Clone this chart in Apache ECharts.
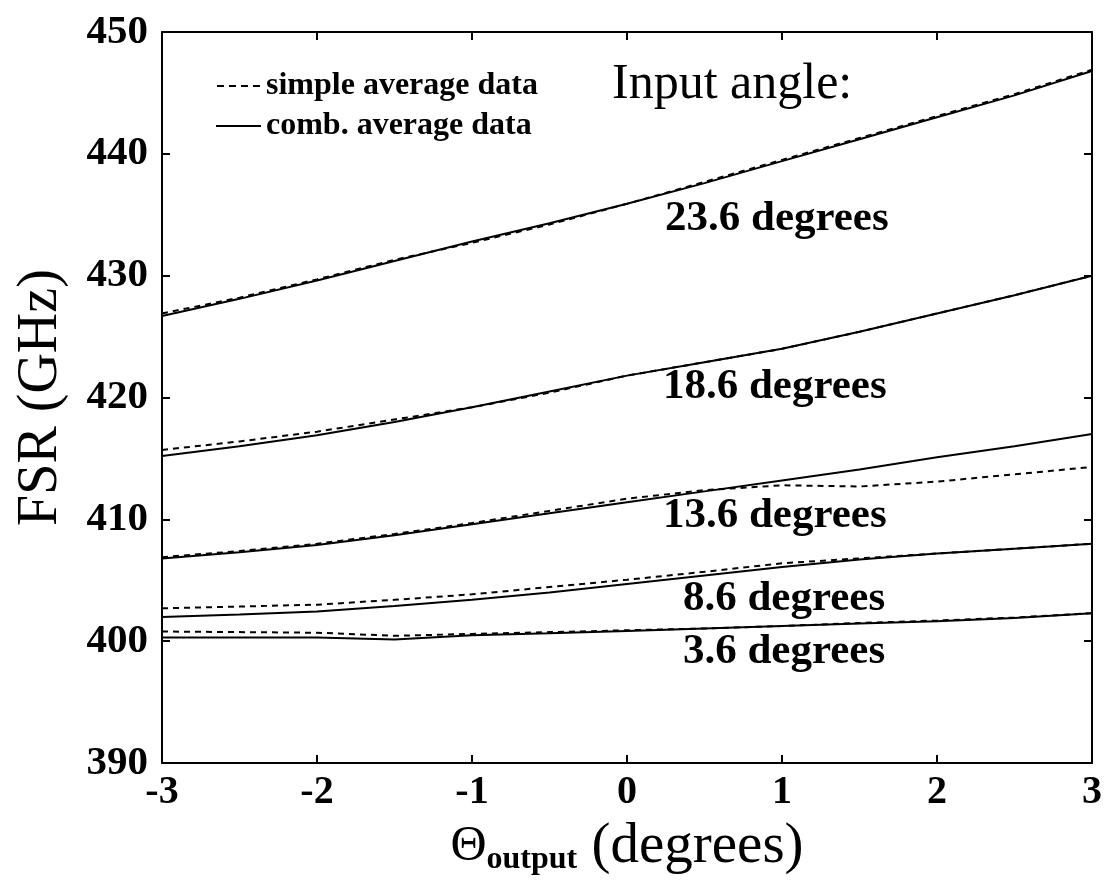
<!DOCTYPE html>
<html>
<head>
<meta charset="utf-8">
<script src="https://cdn.jsdelivr.net/npm/echarts@6/dist/echarts.min.js"></script>
<style>
  html, body { margin: 0; padding: 0; background: #fff; }
  #chart { width: 1106px; height: 881px; }
</style>
</head>
<body>
<div id="chart"></div>
<script>
// Output angle (degrees) sampled along the x axis
const thetaOut = [-3, -2.5, -2, -1.5, -1, -0.5, 0, 0.5, 1, 1.5, 2, 2.5, 3];

// FSR (GHz) per input angle, comb-averaged data
const comb236 = [426.7, 428.1, 429.6, 431.2, 432.8, 434.3, 435.9, 437.6, 439.4, 441.2, 443.0, 444.8, 446.8];
const comb186 = [415.2, 416.0, 416.9, 418.0, 419.2, 420.5, 421.8, 422.9, 424.0, 425.4, 426.9, 428.4, 430.0];
const comb136 = [406.8, 407.3, 407.9, 408.7, 409.6, 410.5, 411.4, 412.3, 413.2, 414.1, 415.1, 416.0, 417.0];
const comb86  = [402.0, 402.2, 402.45, 402.9, 403.4, 404.0, 404.7, 405.4, 406.1, 406.7, 407.2, 407.6, 408.0];
const comb36  = [400.3, 400.3, 400.3, 400.15, 400.5, 400.65, 400.85, 401.05, 401.25, 401.45, 401.65, 401.9, 402.3];

// FSR (GHz) per input angle, simple-averaged data
const simple236 = [426.9, 428.2, 429.7, 431.3, 432.7, 434.2, 435.9, 437.7, 439.5, 441.3, 443.1, 444.9, 446.9];
const simple186 = [415.7, 416.4, 417.2, 418.2, 419.2, 420.4, 421.8, 422.9, 424.0, 425.4, 426.9, 428.4, 430.0];
const simple136 = [406.9, 407.4, 408.0, 408.8, 409.7, 410.7, 411.7, 412.4, 412.8, 412.7, 413.1, 413.7, 414.3];
const simple86  = [402.7, 402.85, 403.0, 403.4, 403.85, 404.45, 405.05, 405.7, 406.4, 406.8, 407.2, 407.6, 408.0];
const simple36  = [400.8, 400.75, 400.7, 400.45, 400.6, 400.75, 400.9, 401.05, 401.25, 401.5, 401.7, 401.95, 402.3];

// Axis ticks
const xTicks = [-3, -2, -1, 0, 1, 2, 3];
const yTicks = [390, 400, 410, 420, 430, 440, 450];

// Curve annotations (anchor in data units, text left-aligned)
const angleLabelText = ['23.6 degrees', '18.6 degrees', '13.6 degrees', '8.6 degrees', '3.6 degrees'];
const angleLabelX = [0.245, 0.232, 0.232, 0.361, 0.361];
const angleLabelY = [434.7, 420.9, 410.25, 403.5, 399.1];

const SERIF = '"Liberation Serif", "Times New Roman", serif';
const SIMPLE = 'simple average data';
const COMB = 'comb. average data';

// Legend keys: a short dashed stroke and a solid stroke
const DASH_ICON = 'path://M0,0h7v2h-7z M12,0h7v2h-7z M24,0h7v2h-7z M36,0h7v2h-7z';
const SOLID_ICON = 'path://M0,0h45v2h-45z';

function pairs(ys) { return thetaOut.map((x, i) => [x, ys[i]]); }

const simpleSets = [simple236, simple186, simple136, simple86, simple36];
const combSets = [comb236, comb186, comb136, comb86, comb36];

const series = [];
simpleSets.forEach(ys => series.push({
  name: SIMPLE, type: 'line', data: pairs(ys), symbol: 'none', silent: true, color: '#000',
  lineStyle: { color: '#000', width: 2, type: [6, 5] }, z: 3
}));
combSets.forEach(ys => series.push({
  name: COMB, type: 'line', data: pairs(ys), symbol: 'none', silent: true, color: '#000',
  lineStyle: { color: '#000', width: 2, type: 'solid' }, z: 4
}));
series.push({
  type: 'scatter', symbolSize: 0, silent: true,
  itemStyle: { opacity: 1 },
  data: angleLabelText.map((t, i) => [angleLabelX[i], angleLabelY[i], t]),
  label: {
    show: true, position: 'right', distance: 0, opacity: 1,
    formatter: p => p.value[2],
    color: '#000', fontFamily: SERIF, fontWeight: 'bold', fontSize: 43
  }
});

const tickLine = { show: true, inside: true, length: 8, lineStyle: { color: '#000', width: 2 } };
const frameLine = { show: true, onZero: false, lineStyle: { color: '#000', width: 2 } };

const chart = echarts.init(document.getElementById('chart'), null, { renderer: 'canvas' });
chart.setOption({
  animation: false,
  backgroundColor: '#fff',
  grid: { left: 162, right: 14, top: 32, bottom: 115, containLabel: false },
  legend: {
    data: [{ name: SIMPLE, icon: DASH_ICON }, { name: COMB, icon: SOLID_ICON }],
    orient: 'vertical',
    left: 216, top: 70, padding: 0,
    itemWidth: 45, itemHeight: 2, itemGap: 8,
    itemStyle: { color: '#000', borderWidth: 0 },
    textStyle: { color: '#000', fontFamily: SERIF, fontWeight: 'bold', fontSize: 32, lineHeight: 32 },
    selectedMode: false
  },
  xAxis: [{
    type: 'value', min: -3, max: 3, interval: 1, position: 'bottom',
    axisLine: frameLine, axisTick: tickLine, splitLine: { show: false },
    axisLabel: {
      color: '#000', fontFamily: SERIF, fontWeight: 'bold', fontSize: 40, margin: 10,
      formatter: v => (xTicks.includes(v) ? String(v) : '')
    },
    name: '{t|Θ}{s|output}{d| (degrees)}',
    nameLocation: 'middle', nameGap: 44,
    nameTextStyle: {
      color: '#000', fontFamily: SERIF,
      rich: {
        t: { fontFamily: SERIF, fontSize: 50, color: '#000', lineHeight: 60 },
        s: { fontFamily: SERIF, fontSize: 32, fontWeight: 'bold', color: '#000', padding: [26, 0, 0, 0], lineHeight: 60 },
        d: { fontFamily: SERIF, fontSize: 57, color: '#000', lineHeight: 60 }
      }
    }
  }, {
    type: 'value', min: -3, max: 3, interval: 1, position: 'top',
    axisLine: frameLine, axisTick: tickLine, axisLabel: { show: false }, splitLine: { show: false }
  }],
  yAxis: [{
    type: 'value', min: 390, max: 450, interval: 10, position: 'left',
    axisLine: frameLine, axisTick: tickLine, splitLine: { show: false },
    axisLabel: {
      color: '#000', fontFamily: SERIF, fontWeight: 'bold', fontSize: 41, margin: 14,
      formatter: v => (yTicks.includes(v) ? String(v) : '')
    },
    name: 'FSR (GHz)', nameLocation: 'middle', nameGap: 93,
    nameTextStyle: { color: '#000', fontFamily: SERIF, fontSize: 56 }
  }, {
    type: 'value', min: 390, max: 450, interval: 10, position: 'right',
    axisLine: frameLine, axisTick: tickLine, axisLabel: { show: false }, splitLine: { show: false }
  }],
  graphic: [{
    type: 'text', left: 612, top: 60, silent: true,
    style: { text: 'Input angle:', fill: '#000', font: '50px ' + SERIF }
  }],
  series: series
});
</script>
</body>
</html>
